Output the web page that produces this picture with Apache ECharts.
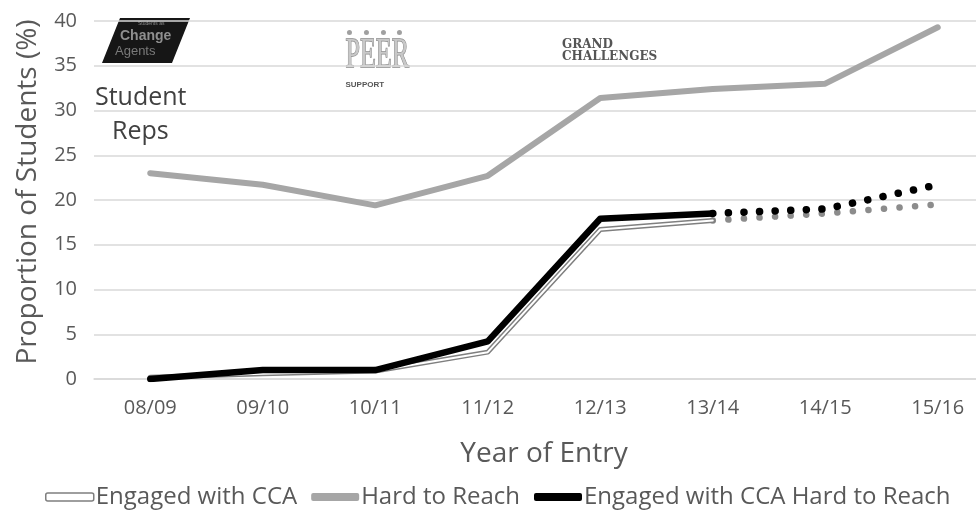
<!DOCTYPE html>
<html>
<head>
<meta charset="utf-8">
<script src="https://cdn.jsdelivr.net/npm/echarts@6/dist/echarts.min.js"></script>
<style>
  html, body { margin: 0; padding: 0; background: #fff; overflow: hidden; }
  /* the plot runs slightly past the right edge of the window */
  #chart { width: 1000px; height: 511px; }
</style>
</head>
<body>
<div id="chart"></div>
<script>
// Years of entry
const years = ['08/09', '09/10', '10/11', '11/12', '12/13', '13/14', '14/15', '15/16'];

// Proportion of students (%), recorded years
const engagedCCA = [0.2, 0.6, 0.9, 3.0, 16.7, 17.7, null, null];
const hardToReach = [23.0, 21.7, 19.4, 22.7, 31.4, 32.4, 33.0, 39.3];
const engagedHardToReach = [0.0, 1.0, 1.0, 4.2, 17.9, 18.5, null, null];

// Projected years (dotted continuation from 13/14)
const engagedCCAProjected = [null, null, null, null, null, 17.7, 18.5, 19.5];
const engagedHardToReachProjected = [null, null, null, null, null, 18.5, 19.0, 21.7];

// Axis ticks
const yMin = 0, yMax = 40, yStep = 5;

const uiFont = '"Open Sans", sans-serif';
const textGrey = '#595959';

const chart = echarts.init(document.getElementById('chart'), null, { renderer: 'canvas' });

const dotted = (color, width) => ({
  color: color, width: width, type: [0.1, 15.5], cap: 'round', join: 'round'
});

chart.setOption({
  animation: false,
  backgroundColor: '#ffffff',
  grid: { left: 94, width: 900, top: 21, bottom: 132, containLabel: false },
  legend: {
    top: 480,
    left: 40,
    itemWidth: 48,
    itemHeight: 8,
    itemGap: 14,
    textStyle: { fontFamily: uiFont, fontSize: 24, color: textGrey, padding: [0, 0, 0, -3] },
    data: [
      { name: 'Engaged with CCA', icon: 'roundRect',
        itemStyle: { color: '#ffffff', borderColor: '#7f7f7f', borderWidth: 1.5 } },
      { name: 'Hard to Reach', icon: 'roundRect',
        itemStyle: { color: '#a6a6a6', borderWidth: 0 } },
      { name: 'Engaged with CCA Hard to Reach', icon: 'roundRect',
        itemStyle: { color: '#000000', borderWidth: 0 } }
    ]
  },
  xAxis: {
    type: 'category',
    data: years,
    boundaryGap: true,
    name: 'Year of Entry',
    nameLocation: 'middle',
    nameGap: 61,
    nameTextStyle: { fontFamily: uiFont, fontSize: 28, color: textGrey },
    axisLine: { show: true, lineStyle: { color: '#d9d9d9', width: 1.5 } },
    axisTick: { show: false },
    axisLabel: { fontFamily: uiFont, fontSize: 20, color: textGrey, margin: 19 }
  },
  yAxis: {
    type: 'value',
    min: yMin, max: yMax, interval: yStep,
    name: 'Proportion of Students (%)',
    nameLocation: 'middle',
    nameGap: 52,
    nameTextStyle: { fontFamily: uiFont, fontSize: 28, color: textGrey, padding: [0, 0, 0, 16] },
    axisLine: { show: false },
    axisTick: { show: false },
    splitLine: { lineStyle: { color: '#d9d9d9', width: 1.5 } },
    axisLabel: { fontFamily: uiFont, fontSize: 20, color: textGrey, margin: 17 }
  },
  series: [
    {
      name: 'Hard to Reach', type: 'line', data: hardToReach,
      symbol: 'none', z: 2,
      lineStyle: { color: '#a6a6a6', width: 6, cap: 'round', join: 'round' },
      itemStyle: { color: '#a6a6a6' }
    },
    {
      name: 'Engaged with CCA', type: 'line', data: engagedCCAProjected,
      symbol: 'none', z: 3,
      lineStyle: dotted('#8c8c8c', 6.5),
      itemStyle: { color: '#8c8c8c' }
    },
    {
      name: 'Engaged with CCA', type: 'line', data: engagedCCA,
      symbol: 'none', z: 3,
      lineStyle: { color: '#7f7f7f', width: 5, cap: 'round', join: 'round' },
      itemStyle: { color: '#7f7f7f' }
    },
    {
      name: 'Engaged with CCA (core)', type: 'line', data: engagedCCA,
      symbol: 'none', z: 4, silent: true,
      lineStyle: { color: '#ffffff', width: 2, cap: 'round', join: 'round' }
    },
    {
      name: 'Engaged with CCA Hard to Reach', type: 'line', data: engagedHardToReachProjected,
      symbol: 'none', z: 5,
      lineStyle: dotted('#000000', 7.5),
      itemStyle: { color: '#000000' }
    },
    {
      name: 'Engaged with CCA Hard to Reach', type: 'line', data: engagedHardToReach,
      symbol: 'none', z: 5,
      lineStyle: { color: '#000000', width: 6.5, cap: 'round', join: 'round' },
      itemStyle: { color: '#000000' }
    }
  ],
  graphic: [
    // "Students as Change Agents" badge
    {
      type: 'group', left: 102, top: 18,
      children: [
        { type: 'polygon', shape: { points: [[18, 0], [88, 0], [70, 45], [0, 45]] },
          style: { fill: '#161616' } },
        { type: 'text', x: 36, y: 3,
          style: { text: 'Students as', font: '5px "Liberation Sans"', fill: '#8a8a8a' } },
        { type: 'text', x: 18, y: 11,
          style: { text: 'Change', font: 'bold 14px "Liberation Sans"', fill: '#8f8f8f' } },
        { type: 'text', x: 13, y: 27,
          style: { text: 'Agents', font: '13px "Liberation Sans"', fill: '#7a7a7a' } }
      ]
    },
    // Peer Support badge
    {
      type: 'group', left: 345, top: 30,
      children: [
        { type: 'circle', shape: { cx: 4, cy: 3, r: 2.5 }, style: { fill: '#a0a0a0' } },
        { type: 'circle', shape: { cx: 21, cy: 3, r: 2.5 }, style: { fill: '#a0a0a0' } },
        { type: 'circle', shape: { cx: 38, cy: 3, r: 2.5 }, style: { fill: '#a0a0a0' } },
        { type: 'circle', shape: { cx: 54, cy: 3, r: 2.5 }, style: { fill: '#a0a0a0' } },
        { type: 'text', x: 0, y: 5, scaleX: 0.62,
          style: { text: 'PEER', font: '42px "Liberation Serif"', fill: '#c8c8c8',
                   stroke: '#8a8a8a', lineWidth: 1.5 } },
        { type: 'text', x: 0, y: 51,
          style: { text: 'SUPPORT', font: 'bold 8px "Liberation Sans"', fill: '#555' } }
      ]
    },
    // Grand Challenges wordmark
    {
      type: 'text', x: 562, y: 39,
      style: { text: 'GRAND\nCHALLENGES', font: 'bold 12px "DejaVu Serif"',
               fill: '#555555', lineHeight: 12 }
    },
    // Student Reps label
    {
      type: 'text', x: 95, y: 85,
      style: { text: 'Student', font: '25px "Open Sans"', fill: '#404040' }
    },
    {
      type: 'text', x: 112, y: 119,
      style: { text: 'Reps', font: '25px "Open Sans"', fill: '#404040' }
    }
  ]
});
</script>
</body>
</html>
